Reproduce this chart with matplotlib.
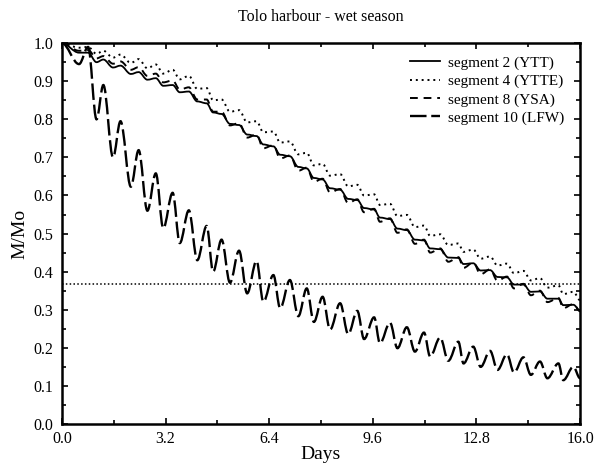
import matplotlib
matplotlib.use("Agg")
import matplotlib.pyplot as plt
from matplotlib.path import Path
from matplotlib.patches import PathPatch
from matplotlib.lines import Line2D
from matplotlib.ticker import MultipleLocator

plt.rcParams['font.family'] = ['Liberation Serif', 'DejaVu Serif']

# days of the tidal highs / lows (shared by all four segments)
days = [0.0, 0.53, 0.81, 1.07, 1.28, 1.58, 1.81, 2.13, 2.37, 2.64, 2.90, 3.13, 3.42, 3.64, 3.92,
        4.18, 4.47, 4.67, 4.93, 5.19, 5.47, 5.72, 6.01, 6.22, 6.53, 6.74, 7.04, 7.30, 7.56, 7.78,
        8.05, 8.28, 8.59, 8.84, 9.12, 9.33, 9.64, 9.82, 10.13, 10.36, 10.65, 10.90, 11.18, 11.37,
        11.68, 11.93, 12.24, 12.40, 12.70, 12.93, 13.22, 13.45, 13.74, 13.96, 14.25, 14.48, 14.76,
        14.99, 15.33, 15.48, 15.79, 16.0]

seg2 = [1.0, 0.975, 0.975, 0.950, 0.957, 0.936, 0.941, 0.919, 0.924, 0.904, 0.908, 0.888, 0.890,
        0.871, 0.873, 0.847, 0.842, 0.818, 0.814, 0.788, 0.785, 0.760, 0.756, 0.734, 0.729, 0.707,
        0.703, 0.675, 0.671, 0.646, 0.642, 0.619, 0.615, 0.591, 0.588, 0.567, 0.563, 0.542, 0.538,
        0.513, 0.509, 0.484, 0.482, 0.461, 0.459, 0.437, 0.436, 0.420, 0.422, 0.403, 0.404, 0.386,
        0.385, 0.366, 0.366, 0.347, 0.348, 0.329, 0.329, 0.312, 0.313, 0.298]

seg4 = [1.0, 0.988, 0.990, 0.972, 0.980, 0.962, 0.970, 0.948, 0.958, 0.934, 0.944, 0.920, 0.930,
        0.905, 0.914, 0.880, 0.882, 0.850, 0.852, 0.820, 0.824, 0.792, 0.795, 0.766, 0.768, 0.739,
        0.742, 0.708, 0.712, 0.679, 0.683, 0.652, 0.656, 0.624, 0.628, 0.600, 0.603, 0.575, 0.578,
        0.546, 0.549, 0.517, 0.521, 0.494, 0.498, 0.470, 0.474, 0.452, 0.458, 0.434, 0.440, 0.416,
        0.421, 0.396, 0.402, 0.377, 0.383, 0.358, 0.364, 0.341, 0.347, 0.325]

seg8 = [1.0, 0.980, 0.982, 0.960, 0.966, 0.946, 0.952, 0.930, 0.937, 0.914, 0.920, 0.897, 0.902,
        0.878, 0.884, 0.852, 0.852, 0.820, 0.820, 0.784, 0.790, 0.752, 0.760, 0.724, 0.732, 0.697,
        0.705, 0.665, 0.673, 0.636, 0.644, 0.608, 0.617, 0.580, 0.590, 0.556, 0.565, 0.531, 0.540,
        0.502, 0.511, 0.473, 0.484, 0.450, 0.461, 0.426, 0.438, 0.410, 0.424, 0.393, 0.406, 0.376,
        0.387, 0.356, 0.368, 0.338, 0.350, 0.320, 0.331, 0.304, 0.315, 0.296]

seg10 = [1.0, 0.945, 0.99, 0.80, 0.89, 0.70, 0.795, 0.623, 0.719, 0.56, 0.658, 0.514, 0.607, 0.475,
         0.561, 0.43, 0.52, 0.40, 0.484, 0.371, 0.455, 0.343, 0.428, 0.321, 0.391, 0.304, 0.378,
         0.283, 0.356, 0.268, 0.334, 0.248, 0.317, 0.236, 0.297, 0.223, 0.28, 0.212, 0.266, 0.199,
         0.254, 0.19, 0.24, 0.177, 0.227, 0.166, 0.216, 0.159, 0.203, 0.15, 0.192, 0.142, 0.183,
         0.135, 0.175, 0.129, 0.164, 0.12, 0.159, 0.115, 0.15, 0.12]

labels = ["segment 2 (YTT)", "segment 4 (YTTE)", "segment 8 (YSA)", "segment 10 (LFW)"]
efold = 0.368


def tide_path(x, y):
    # smooth bezier between successive highs and lows (flat at each extreme)
    verts = [(x[0], y[0])]
    codes = [Path.MOVETO]
    for i in range(1, len(x)):
        d = (x[i] - x[i - 1]) * 0.36
        verts += [(x[i - 1] + d, y[i - 1]), (x[i] - d, y[i]), (x[i], y[i])]
        codes += [Path.CURVE4] * 3
    return Path(verts, codes)


fig = plt.figure(figsize=(5.95, 4.69), dpi=100)
ax = fig.add_axes([0.104, 0.096, 0.871, 0.812])

styles = [
    dict(ls='-', lw=1.3),
    dict(ls=(0, (1, 2)), lw=1.4),
    dict(ls=(0, (4, 3)), lw=1.4),
    dict(ls=(0, (7, 2)), lw=1.7),
]
series = [seg2, seg4, seg8, seg10]

handles = []
for vals, st, lab in zip(series, styles, labels):
    ax.add_patch(PathPatch(tide_path(days, vals), fill=False, ec='black',
                           capstyle='butt', **st))
    handles.append(Line2D([], [], color='black', label=lab, **st))

ax.axhline(efold, color='black', ls=(0, (1, 1.5)), lw=1.1)

ax.set_xlim(0, 16)
ax.set_ylim(0, 1)
ax.xaxis.set_major_locator(MultipleLocator(3.2))
ax.xaxis.set_minor_locator(MultipleLocator(1.6))
ax.yaxis.set_major_locator(MultipleLocator(0.1))
ax.yaxis.set_minor_locator(MultipleLocator(0.05))
ax.xaxis.set_major_formatter(plt.FormatStrFormatter('%.1f'))
ax.yaxis.set_major_formatter(plt.FormatStrFormatter('%.1f'))
ax.tick_params(which='both', direction='in', top=True, right=True, labelsize=11.5,
               width=1.2, colors='black')
ax.tick_params(axis='x', which='major', pad=5)
ax.tick_params(axis='y', which='major', pad=6)
ax.tick_params(which='major', length=4)
ax.tick_params(which='minor', length=3)
for s in ax.spines.values():
    s.set_linewidth(1.8)

ax.set_xlabel("Days", fontsize=14, labelpad=-1)
ax.set_ylabel("M/Mo", fontsize=14, labelpad=4)
ax.set_title("Tolo harbour - wet season", fontsize=11.5, pad=16)

ax.legend(handles=handles, loc='upper right', frameon=False, fontsize=11,
          handlelength=2.0, handletextpad=0.5, labelspacing=0.3,
          borderaxespad=0.3, bbox_to_anchor=(0.99, 0.995))

fig.savefig("out.png", dpi=100)
